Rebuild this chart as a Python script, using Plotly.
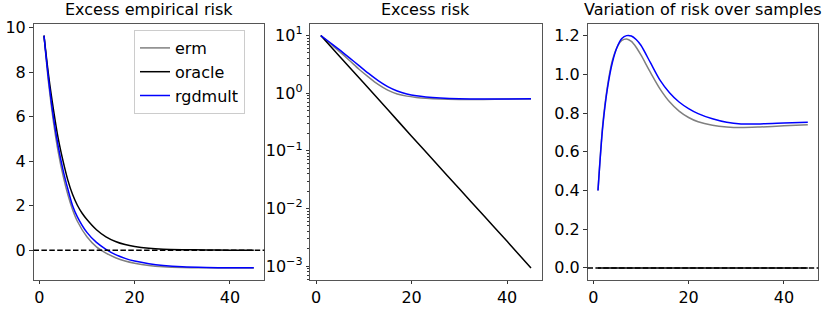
import plotly.graph_objects as go

# ---------------- data ----------------
# Panel 1: excess empirical risk
p1_x_erm = [1, 2, 3, 4, 5, 6, 7, 8, 10, 12, 14, 16, 18, 20, 23, 26, 30, 35, 40, 45]
p1_erm = [9.65, 7.45, 5.75, 4.4, 3.35, 2.5, 1.82, 1.3, 0.6, 0.15, -0.13, -0.34, -0.49, -0.59, -0.69, -0.745, -0.78, -0.795, -0.8, -0.8]
p1_x_oracle = [1, 2, 3, 4, 5, 6, 7, 8, 9, 10, 12, 14, 16, 18, 20, 23, 26, 30, 35, 40, 45]
p1_oracle = [9.65, 7.8, 6.3, 5.0, 4.0, 3.15, 2.5, 2.02, 1.66, 1.38, 0.92, 0.6, 0.39, 0.25, 0.16, 0.08, 0.04, 0.02, 0.01, 0.0, 0.0]
p1_x_rgd = [1, 2, 3, 4, 5, 6, 7, 8, 10, 12, 14, 16, 18, 20, 23, 26, 30, 35, 40, 45]
p1_rgd = [9.65, 7.6, 5.95, 4.65, 3.6, 2.75, 2.0, 1.5, 0.8, 0.35, 0.04, -0.2, -0.37, -0.49, -0.61, -0.69, -0.75, -0.78, -0.79, -0.79]

# Panel 2: excess risk (log scale)
p2_x_erm = [1, 3, 5, 7, 9, 11, 13, 15, 17, 19, 21, 23, 26, 30, 35, 40, 45]
p2_erm = [10, 7.2, 5.2, 3.7, 2.6, 1.9, 1.42, 1.13, 0.97, 0.89, 0.845, 0.815, 0.79, 0.78, 0.78, 0.79, 0.79]
p2_x_oracle = [1, 5, 10, 15, 20, 25, 30, 35, 40, 45]
p2_oracle = [10, 4.3, 1.5, 0.52, 0.18, 0.063, 0.022, 0.0077, 0.0027, 0.00093]
p2_x_rgd = [1, 3, 5, 7, 9, 11, 13, 15, 17, 19, 21, 23, 26, 30, 35, 40, 45]
p2_rgd = [10, 7.5, 5.6, 4.1, 3.0, 2.2, 1.65, 1.3, 1.09, 0.97, 0.9, 0.86, 0.825, 0.8, 0.79, 0.795, 0.8]

# Panel 3: variation of risk over samples
p3_x = [1, 2, 3, 4, 5, 6, 7, 8, 9, 10, 12, 14, 16, 18, 20, 22, 25, 28, 31, 35, 40, 45]
p3_erm = [0.40, 0.74, 0.94, 1.07, 1.14, 1.175, 1.183, 1.17, 1.14, 1.1, 1.01, 0.925, 0.858, 0.81, 0.777, 0.755, 0.737, 0.728, 0.725, 0.728, 0.734, 0.74]
p3_rgd = [0.40, 0.73, 0.93, 1.06, 1.14, 1.185, 1.2, 1.198, 1.18, 1.15, 1.06, 0.97, 0.905, 0.857, 0.823, 0.797, 0.77, 0.752, 0.744, 0.744, 0.748, 0.752]
p3_x_oracle = [1, 45]
p3_oracle = [0.0, 0.0]

titles = ["Excess empirical risk", "Excess risk", "Variation of risk over samples"]
x_ticks = [0, 20, 40]
p1_yticks = [0, 2, 4, 6, 8, 10]
p2_yticks = [10, 1, 0.1, 0.01, 0.001]
p2_yticktext = ["10<sup>1</sup>", "10<sup>0</sup>", "10<sup>−1</sup>", "10<sup>−2</sup>", "10<sup>−3</sup>"]
p2_minor = [m * 10.0 ** e for e in range(-4, 2) for m in range(2, 10)]
p3_yticks = [0.0, 0.2, 0.4, 0.6, 0.8, 1.0, 1.2]

names = ["erm", "oracle", "rgdmult"]
colors = {"erm": "#808080", "oracle": "#000000", "rgdmult": "#0000ff"}

# ---------------- figure ----------------
W, H = 831, 309
FONT = "DejaVu Sans"
FS = 16
fig = go.Figure()

def add(x, y, name, ax, show):
    fig.add_trace(go.Scatter(
        x=x, y=y, mode="lines", name=name, showlegend=show,
        line=dict(color=colors[name], width=1.5, shape="spline", smoothing=0.8),
        xaxis="x" + ax, yaxis="y" + ax))

add(p1_x_erm, p1_erm, "erm", "", True)
add(p1_x_oracle, p1_oracle, "oracle", "", True)
add(p1_x_rgd, p1_rgd, "rgdmult", "", True)
add(p2_x_erm, p2_erm, "erm", "2", False)
add(p2_x_oracle, p2_oracle, "oracle", "2", False)
add(p2_x_rgd, p2_rgd, "rgdmult", "2", False)
add(p3_x, p3_erm, "erm", "3", False)
add(p3_x_oracle, p3_oracle, "oracle", "3", False)
add(p3_x, p3_rgd, "rgdmult", "3", False)

ytop = 1 - 24 / H
ybot = 1 - 279.5 / H
doms = [(33.5 / W, 264.3 / W), (310.3 / W, 541.5 / W), (587.5 / W, 818.3 / W)]

axcommon = dict(showgrid=False, zeroline=False, showline=True, linecolor="#555555",
                linewidth=1, mirror=True, ticks="outside", ticklen=3.5, tickwidth=1,
                tickcolor="#333333", tickfont=dict(family=FONT, size=FS, color="#000000"))

layout = dict(width=W, height=H, margin=dict(l=0, r=0, t=0, b=0, autoexpand=False),
              paper_bgcolor="white", plot_bgcolor="white",
              font=dict(family=FONT, size=FS, color="#000000"))

for i, (d0, d1) in enumerate(doms):
    sfx = "" if i == 0 else str(i + 1)
    layout["xaxis" + sfx] = dict(axcommon, domain=[d0, d1], range=[-1.2, 47.2],
                                 tickvals=x_ticks, anchor="y" + sfx)
layout["yaxis"] = dict(axcommon, domain=[ybot, ytop], range=[-1.32, 10.17],
                       tickvals=p1_yticks, anchor="x")
layout["yaxis2"] = dict(axcommon, domain=[ybot, ytop], type="log", range=[-3.23, 1.2],
                        tickvals=p2_yticks, ticktext=p2_yticktext, anchor="x2",
                        minor=dict(tickvals=p2_minor, ticks="outside", ticklen=2,
                                   tickwidth=0.8, tickcolor="#333333", showgrid=False))
layout["yaxis3"] = dict(axcommon, domain=[ybot, ytop], range=[-0.06, 1.26],
                        tickvals=p3_yticks, tickformat=".1f", anchor="x3")

fig.update_layout(**layout)

# dashed zero lines (panels 1 and 3)
for sfx in ["", "3"]:
    fig.add_shape(type="line", xref=("x" + sfx) + " domain", yref="y" + sfx,
                  x0=0, x1=1, y0=0, y1=0,
                  line=dict(color="#000000", width=1.5, dash="5.5px,2.4px"))

# titles
for i, (d0, d1) in enumerate(doms):
    fig.add_annotation(text=titles[i], xref="paper", yref="paper",
                       x=(d0 + d1) / 2, y=ytop, yshift=3, xanchor="center", yanchor="bottom",
                       showarrow=False, font=dict(family=FONT, size=FS, color="#000000"))

fig.update_layout(legend=dict(x=134 / W, y=1 - 30 / H, xanchor="left", yanchor="top",
                              bgcolor="rgba(255,255,255,0.8)", bordercolor="#cccccc",
                              borderwidth=1, font=dict(family=FONT, size=FS, color="#000000"),
                              tracegroupgap=0))

fig.write_html("out.html", config={"displayModeBar": False},
               post_script="document.body.style.margin='0';document.body.style.overflow='hidden';")
